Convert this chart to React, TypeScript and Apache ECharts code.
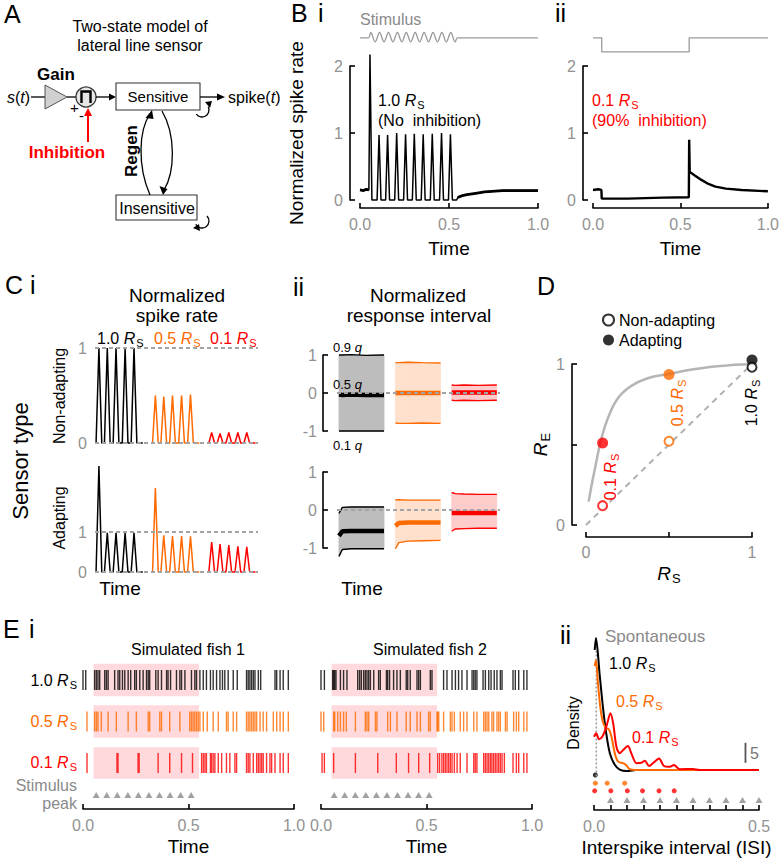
import React, { useEffect, useRef } from "react";
import * as echarts from "echarts";

const FONT = "'Liberation Sans', Arial, Helvetica, sans-serif";
const BLACK = "#000000";
const ORANGE = "#ff6a00";
const RED = "#ff0000";
const GREY_TXT = "#929292";
const GREY_LINE = "#a3a3a3";
const PINK = "#ffd9dc";
const TICK_FS = 16;

// ---------------- Panel B data ----------------
const b1SpikeTimes = [0.056, 0.107, 0.155, 0.206, 0.256, 0.305, 0.355, 0.406, 0.458, 0.508];
const b1SpikeRates = [2.17, 0.97, 0.97, 1.0, 0.98, 0.99, 0.98, 0.99, 1.0, 0.98];
const b1Before = [[0, 0.15], [0.02, 0.14], [0.035, 0.16], [0.05, 0.15]];
const b1After = [[0.543, 0.0], [0.55, 0.04], [0.57, 0.06], [0.6, 0.08], [0.65, 0.1], [0.7, 0.12], [0.8, 0.14], [0.9, 0.14], [1.0, 0.14]];
const b1Stimulus = [
  [0, 2.42], [0.047, 2.42], [0.06, 2.5], [0.085, 2.36], [0.11, 2.5], [0.135, 2.36], [0.16, 2.5], [0.185, 2.36],
  [0.21, 2.5], [0.235, 2.36], [0.26, 2.5], [0.285, 2.36], [0.31, 2.5], [0.335, 2.36], [0.36, 2.5], [0.385, 2.36],
  [0.41, 2.5], [0.435, 2.36], [0.46, 2.5], [0.485, 2.36], [0.51, 2.5], [0.535, 2.36], [0.548, 2.42], [1, 2.42],
];
const b2Trace = [
  [0, 0.15], [0.03, 0.16], [0.048, 0.15], [0.05, 0.02], [0.2, 0.02], [0.4, 0.035], [0.548, 0.04],
  [0.55, 0.9], [0.553, 0.42], [0.58, 0.37], [0.62, 0.3], [0.66, 0.24], [0.7, 0.2], [0.76, 0.17], [0.85, 0.15], [1.0, 0.13],
];
const b2Stimulus = [[0, 2.42], [0.05, 2.42], [0.05, 2.21], [0.55, 2.21], [0.55, 2.42], [1, 2.42]];

// ---------------- Panel C data ----------------
const cSpikeTimes = [0.022, 0.069, 0.118, 0.169, 0.219];
const cNonAdapt10 = [1, 1, 1, 1, 1];
const cNonAdapt05 = [0.5, 0.49, 0.5, 0.5, 0.51];
const cNonAdapt01 = [0.11, 0.1, 0.11, 0.11, 0.11];
const cAdapt10 = [2.65, 0.98, 0.98, 0.98, 0.98];
const cAdapt05 = [2.1, 0.92, 0.9, 0.9, 0.89];
const cAdapt01 = [0.75, 0.7, 0.67, 0.64, 0.63];

const riTimes = [0.011, 0.03, 0.08, 0.16, 0.264];
const riNonAdaptBlack = { q90: [1.0, 1.0, 1.01, 0.99, 1.0], q50: [-0.04, -0.05, -0.04, -0.05, -0.05], q10: [-1.0, -1.0, -1.0, -1.0, -1.0] };
const riNonAdaptOrange = { q90: [0.8, 0.8, 0.81, 0.8, 0.79], q50: [0, 0, 0, 0, 0], q10: [-0.79, -0.8, -0.8, -0.79, -0.8] };
const riNonAdaptRed = { q90: [0.21, 0.2, 0.21, 0.2, 0.21], q50: [0.01, 0.01, 0.01, 0.01, 0.01], q10: [-0.19, -0.2, -0.19, -0.2, -0.19] };
const riAdaptBlack = { q90: [-0.09, 0.07, 0.08, 0.08, 0.08], q50: [-0.68, -0.56, -0.55, -0.55, -0.55], q10: [-1.22, -1.04, -1.02, -1.02, -1.02] };
const riAdaptOrange = { q90: [0.27, 0.27, 0.26, 0.26, 0.26], q50: [-0.42, -0.34, -0.33, -0.33, -0.33], q10: [-1.02, -0.86, -0.82, -0.81, -0.8] };
const riAdaptRed = { q90: [0.46, 0.43, 0.42, 0.41, 0.41], q50: [-0.08, -0.08, -0.08, -0.08, -0.08], q10: [-0.56, -0.5, -0.49, -0.48, -0.48] };

// ---------------- Panel D data ----------------
const dCurveRs = [0.016, 0.036, 0.056, 0.086, 0.127, 0.187, 0.267, 0.367, 0.508, 0.649, 0.809, 1.0];
const dCurveRe = [0.145, 0.26, 0.36, 0.51, 0.65, 0.78, 0.86, 0.91, 0.94, 0.967, 0.988, 1.0];
const dRs = [0.1, 0.5, 1.0];
const dReNonAdapt = [0.12, 0.52, 0.98];
const dReAdapt = [0.51, 0.935, 1.025];

// ---------------- Panel E data ----------------
const fish1Rs10 = [0.0, 0.013, 0.055, 0.063, 0.071, 0.079, 0.103, 0.111, 0.119, 0.15, 0.166, 0.174, 0.187, 0.198, 0.214, 0.226, 0.245, 0.253, 0.269, 0.285, 0.301, 0.309, 0.316, 0.345, 0.356, 0.372, 0.396, 0.403, 0.415, 0.443, 0.459, 0.467, 0.483, 0.514, 0.53, 0.538, 0.554, 0.57, 0.585, 0.604, 0.617, 0.633, 0.649, 0.661, 0.672, 0.688, 0.712, 0.731, 0.775, 0.783, 0.791, 0.799, 0.807, 0.815, 0.831, 0.842, 0.91, 0.918, 0.934, 0.949, 0.973];
const fish1Rs05 = [0.019, 0.055, 0.063, 0.071, 0.087, 0.119, 0.158, 0.214, 0.253, 0.309, 0.316, 0.364, 0.372, 0.411, 0.459, 0.506, 0.514, 0.522, 0.53, 0.538, 0.546, 0.554, 0.57, 0.589, 0.617, 0.641, 0.68, 0.688, 0.712, 0.728, 0.775, 0.783, 0.791, 0.799, 0.807, 0.815, 0.823, 0.839, 0.854, 0.87, 0.902, 0.918, 0.934, 0.949, 0.973];
const fish1Rs01 = [0.019, 0.161, 0.166, 0.261, 0.266, 0.356, 0.411, 0.467, 0.519, 0.562, 0.57, 0.578, 0.585, 0.604, 0.609, 0.617, 0.625, 0.641, 0.657, 0.68, 0.696, 0.72, 0.728, 0.775, 0.783, 0.791, 0.807, 0.823, 0.831, 0.839, 0.847, 0.854, 0.87, 0.886, 0.894, 0.91, 0.934, 0.949, 0.973];
const fish2Rs10 = [0.0, 0.016, 0.055, 0.06, 0.065, 0.071, 0.092, 0.107, 0.123, 0.174, 0.183, 0.191, 0.202, 0.21, 0.218, 0.226, 0.234, 0.25, 0.273, 0.281, 0.31, 0.316, 0.325, 0.344, 0.36, 0.376, 0.404, 0.411, 0.423, 0.455, 0.463, 0.471, 0.518, 0.526, 0.581, 0.597, 0.621, 0.637, 0.652, 0.668, 0.692, 0.716, 0.724, 0.731, 0.739, 0.768, 0.779, 0.795, 0.806, 0.821, 0.834, 0.85, 0.858, 0.91, 0.921, 0.937, 0.961, 0.976];
const fish2Rs05 = [0.0, 0.013, 0.06, 0.065, 0.079, 0.092, 0.107, 0.12, 0.163, 0.21, 0.218, 0.226, 0.258, 0.265, 0.316, 0.329, 0.36, 0.404, 0.423, 0.455, 0.471, 0.51, 0.518, 0.55, 0.553, 0.558, 0.581, 0.613, 0.621, 0.632, 0.66, 0.676, 0.692, 0.724, 0.739, 0.771, 0.779, 0.787, 0.795, 0.81, 0.818, 0.834, 0.842, 0.85, 0.874, 0.882, 0.913, 0.926, 0.937, 0.961, 0.976];
const fish2Rs01 = [0.005, 0.016, 0.06, 0.163, 0.269, 0.357, 0.415, 0.463, 0.515, 0.553, 0.562, 0.573, 0.581, 0.589, 0.597, 0.605, 0.613, 0.621, 0.632, 0.645, 0.66, 0.692, 0.724, 0.731, 0.739, 0.771, 0.779, 0.787, 0.795, 0.803, 0.81, 0.818, 0.826, 0.834, 0.842, 0.85, 0.858, 0.869, 0.91, 0.926, 0.937, 0.961, 0.976];
const stimPeakTimes = [0.0625, 0.1125, 0.1625, 0.2125, 0.2625, 0.3125, 0.3625, 0.4125, 0.4625, 0.5125];

const isiBlack = [[0.002, 30], [0.006, 33], [0.017, 24], [0.027, 15.8], [0.037, 9.2], [0.048, 4.2], [0.063, 1.3], [0.078, 0.1], [0.1, -0.25], [0.125, 0]];
const isiOrange = [[0.002, 26], [0.006, 27.5], [0.012, 21.7], [0.019, 15.8], [0.027, 12], [0.037, 10.4], [0.045, 10.2], [0.053, 8.3], [0.063, 4.2], [0.073, 2.1], [0.088, 1.7], [0.098, 1.2], [0.108, 0.2], [0.13, 0], [0.5, 0]];
const isiRed = [[0.0, 8.3], [0.007, 9.2], [0.015, 7.7], [0.025, 8.3], [0.037, 10.7], [0.05, 14.2], [0.058, 11.7], [0.068, 5.8], [0.078, 4.2], [0.093, 5.4], [0.103, 6], [0.113, 4.2], [0.129, 1.7], [0.144, 1.8], [0.154, 2.3], [0.167, 1], [0.184, 2.1], [0.197, 2.9], [0.212, 1], [0.23, 0.8], [0.242, 1.25], [0.26, 0.2], [0.3, 0.25], [0.32, 0], [0.5, 0]];
const isiDotsBlack = [0.004];
const isiDotsOrange = [0.004, 0.04, 0.093];
const isiDotsRed = [0.002, 0.051, 0.101, 0.147, 0.197, 0.243];
const isiStimPeaks = [0.05, 0.1, 0.15, 0.2, 0.25, 0.3, 0.35, 0.4, 0.45, 0.5];
const isiSpontaneous = 0.007;
const isiScaleBar = 5;

// ---------------- helpers ----------------
const GROUP_OFF = [0, 0.317, 0.633];

function rich(size: number, color: string) {
  const base = { fontSize: size, fontFamily: FONT, color, fill: color };
  return {
    n: { ...base },
    i: { ...base, fontStyle: "italic" },
    s: { ...base, fontSize: Math.round(size * 0.7), verticalAlign: "bottom", padding: [2, 0, -2, 1] },
    b: { ...base, fontWeight: "bold" },
  };
}
const rsText = (prefix: string) => `{n|${prefix}}{i|R}{s|S}`;

function txt(text: string, x: number, y: number, o: any = {}) {
  const color = o.color || BLACK;
  const size = o.size || 16;
  return {
    type: "text",
    x,
    y,
    rotation: o.rot || 0,
    silent: true,
    z: 100,
    style: {
      text,
      fill: color,
      fontSize: size,
      fontFamily: FONT,
      fontWeight: o.bold ? "bold" : "normal",
      fontStyle: o.italic ? "italic" : "normal",
      align: o.align || "left",
      verticalAlign: "middle",
      textAlign: o.align || "left",
      textVerticalAlign: "middle",
      rich: rich(size, color),
    },
  };
}

function ln(idx: number, data: any[], color: string, width: number, extra: any = {}) {
  return {
    type: "line",
    xAxisIndex: idx,
    yAxisIndex: idx,
    data,
    symbol: "none",
    silent: true,
    clip: false,
    lineStyle: { color, width },
    itemStyle: { color },
    ...extra,
  };
}

function spikeTrace(times: number[], heights: number[], off: number, halfW: number, start: number, end: number) {
  const pts: number[][] = [[off + start, 0]];
  times.forEach((t, k) => {
    pts.push([off + t - halfW, 0], [off + t, heights[k]], [off + t + halfW, 0]);
  });
  pts.push([off + end, 0]);
  return pts;
}

function bandSeries(idx: number, off: number, box: any, fill: string) {
  const data = riTimes.slice(0, -1).map((t, k) => [off + t, off + riTimes[k + 1], box.q10[k], box.q90[k], box.q10[k + 1], box.q90[k + 1]]);
  return {
    type: "custom",
    xAxisIndex: idx,
    yAxisIndex: idx,
    silent: true,
    clip: false,
    z: 1,
    data,
    encode: { x: [0, 1], y: [2, 3, 4, 5] },
    renderItem: (_p: any, api: any) => {
      const a = api.coord([api.value(0), api.value(2)]);
      const b = api.coord([api.value(0), api.value(3)]);
      const c = api.coord([api.value(1), api.value(5)]);
      const d = api.coord([api.value(1), api.value(4)]);
      return { type: "polygon", shape: { points: [a, b, c, d] }, style: { fill, stroke: fill, lineWidth: 0.8 } };
    },
  };
}

function boxSeries(idx: number, off: number, box: any, color: string, fill: string) {
  return [
    bandSeries(idx, off, box, fill),
    ln(idx, riTimes.map((t, k) => [off + t, box.q90[k]]), color, 1.4, { z: 3 }),
    ln(idx, riTimes.map((t, k) => [off + t, box.q10[k]]), color, 1.4, { z: 3 }),
    ln(idx, riTimes.map((t, k) => [off + t, box.q50[k]]), color, 4.5, { z: 3 }),
  ];
}

function raster(idx: number, times: number[], row: number, color: string) {
  return {
    type: "scatter",
    xAxisIndex: idx,
    yAxisIndex: idx,
    silent: true,
    z: 4,
    symbol: "rect",
    symbolSize: [1.4, 20],
    itemStyle: { color },
    data: times.map((t) => [t, row]),
  };
}

function axisStyle(extra: any) {
  return {
    type: "value",
    axisLine: { show: true, onZero: false, lineStyle: { color: BLACK, width: 1.6 } },
    axisTick: { show: true, inside: true, length: 5, lineStyle: { color: BLACK, width: 1.6 } },
    axisLabel: { color: GREY_TXT, fontSize: TICK_FS, fontFamily: FONT, margin: 8 },
    splitLine: { show: false },
    nameLocation: "middle",
    nameTextStyle: { fontSize: 19, fontFamily: FONT, color: BLACK },
    ...extra,
  };
}
const hidden = (idx: number, min: number, max: number) => ({ type: "value", gridIndex: idx, min, max, show: false });

function buildOption() {
  const grid = [
    { left: 360, top: 66, width: 178, height: 134 },
    { left: 593, top: 66, width: 178, height: 134 },
    { left: 95, top: 348, width: 163, height: 95 },
    { left: 95, top: 532, width: 163, height: 40 },
    { left: 337, top: 355, width: 163, height: 76 },
    { left: 337, top: 472, width: 163, height: 76 },
    { left: 586, top: 364, width: 166, height: 161 },
    { left: 83, top: 660, width: 211, height: 149 },
    { left: 321, top: 660, width: 211, height: 149 },
    { left: 594, top: 640, width: 165, height: 170 },
  ];
  const fmt1 = (v: number) => v.toFixed(1);
  const xLab = (formatter: any, margin = 8) => ({ color: GREY_TXT, fontSize: TICK_FS, fontFamily: FONT, margin, formatter });
  const xAxis = [
    axisStyle({ gridIndex: 0, min: 0, max: 1, interval: 0.5, offset: 8, name: "Time", nameGap: 31, axisLabel: xLab(fmt1) }),
    axisStyle({ gridIndex: 1, min: 0, max: 1, interval: 0.5, offset: 8, name: "Time", nameGap: 31, axisLabel: xLab(fmt1) }),
    hidden(2, 0, 0.915),
    hidden(3, 0, 0.915),
    hidden(4, 0, 0.915),
    hidden(5, 0, 0.915),
    axisStyle({
      gridIndex: 6, min: 0, max: 1, interval: 0.5, offset: 12, name: "{i|R}{s|S}", nameGap: 27,
      nameTextStyle: { fontSize: 19, fontFamily: FONT, color: BLACK, rich: rich(19, BLACK) },
      axisLabel: xLab((v: number) => (Math.abs(v - 0.5) < 1e-6 ? "" : String(v)), 7),
    }),
    axisStyle({ gridIndex: 7, min: 0, max: 1, interval: 0.5, name: "Time", nameGap: 28, axisLabel: xLab(fmt1) }),
    axisStyle({ gridIndex: 8, min: 0, max: 1, interval: 0.5, name: "Time", nameGap: 28, axisLabel: xLab(fmt1) }),
    axisStyle({
      gridIndex: 9, min: 0, max: 0.5, interval: 0.05, name: "Interspike interval (ISI)", nameGap: 28,
      axisLabel: xLab((v: number) => (v < 1e-6 || Math.abs(v - 0.5) < 1e-6 ? v.toFixed(1) : "")),
    }),
  ];
  const yLab = (margin: number) => ({ color: GREY_TXT, fontSize: TICK_FS, fontFamily: FONT, margin });
  const yAxis = [
    axisStyle({ gridIndex: 0, min: 0, max: 2, interval: 1, offset: 10, name: "Normalized spike rate", nameGap: 44, axisLabel: yLab(7) }),
    axisStyle({ gridIndex: 1, min: 0, max: 2, interval: 1, offset: 10, axisLabel: yLab(7) }),
    axisStyle({ gridIndex: 2, min: 0, max: 1, interval: 1, axisLine: { show: false }, axisTick: { show: false }, axisLabel: yLab(8) }),
    axisStyle({ gridIndex: 3, min: 0, max: 1, interval: 1, axisLine: { show: false }, axisTick: { show: false }, axisLabel: yLab(8) }),
    axisStyle({ gridIndex: 4, min: -1, max: 1, interval: 1, offset: 14, axisLabel: yLab(6) }),
    axisStyle({ gridIndex: 5, min: -1, max: 1, interval: 1, offset: 14, axisLabel: yLab(6) }),
    axisStyle({
      gridIndex: 6, min: 0, max: 1, interval: 0.5, offset: 14, name: "{i|R}{s|E}", nameGap: 16,
      nameTextStyle: { fontSize: 19, fontFamily: FONT, color: BLACK, rich: rich(19, BLACK) },
      axisLabel: { ...yLab(7), formatter: (v: number) => (Math.abs(v - 0.5) < 1e-6 ? "" : String(v)) },
    }),
    hidden(7, -0.108, 3.482),
    hidden(8, -0.108, 3.482),
    hidden(9, -10, 32.5),
  ];

  const series: any[] = [];

  // ---- B i ----
  const b1Trace: number[][] = [...b1Before];
  b1SpikeTimes.forEach((t, k) => {
    if (k > 0) b1Trace.push([t - 0.011, 0]);
    b1Trace.push([t, b1SpikeRates[k]], [t + 0.011, 0]);
  });
  b1Trace.push(...b1After);
  series.push(ln(0, b1Trace, BLACK, 1.5));
  series.push(ln(0, b1Before, BLACK, 2.8));
  series.push(ln(0, b1After.slice(1), BLACK, 2.8));
  series.push(ln(0, b1Stimulus, "#9a9a9a", 1.3, { smooth: 0.35 }));
  // ---- B ii ----
  series.push(ln(1, b2Trace, BLACK, 2.4));
  series.push(ln(1, b2Stimulus, "#9a9a9a", 1.3));

  // ---- C i ----
  const colors = [BLACK, ORANGE, RED];
  [cNonAdapt10, cNonAdapt05, cNonAdapt01].forEach((h, g) => series.push(ln(2, spikeTrace(cSpikeTimes, h, GROUP_OFF[g], 0.016, 0, 0.268), colors[g], 1.5)));
  [cAdapt10, cAdapt05, cAdapt01].forEach((h, g) => series.push(ln(3, spikeTrace(cSpikeTimes, h, GROUP_OFF[g], 0.016, 0, 0.268), colors[g], 1.5)));
  const dash = { color: GREY_LINE, width: 2, type: [4, 3] };
  [2, 3].forEach((i) => {
    series.push(ln(i, [[0, 1], [0.915, 1]], GREY_LINE, 2, { lineStyle: dash, z: 5 }));
    series.push(ln(i, [[0, 0], [0.915, 0]], GREY_LINE, 2, { lineStyle: dash, z: 5 }));
  });

  // ---- C ii ----
  const fills = ["#bdbdbd", "#ffe0cc", "#ffcccc"];
  [riNonAdaptBlack, riNonAdaptOrange, riNonAdaptRed].forEach((b, g) => series.push(...boxSeries(4, GROUP_OFF[g], b, colors[g], fills[g])));
  [riAdaptBlack, riAdaptOrange, riAdaptRed].forEach((b, g) => series.push(...boxSeries(5, GROUP_OFF[g], b, colors[g], fills[g])));
  [4, 5].forEach((i) => series.push(ln(i, [[0, 0], [0.915, 0]], GREY_LINE, 2, { lineStyle: dash, z: 5 })));

  // ---- D ----
  series.push(ln(6, [[0, 0], [1, 1]], "#b0b0b0", 2, { lineStyle: { color: "#b0b0b0", width: 2, type: [6, 5] } }));
  series.push(ln(6, dCurveRs.map((x, k) => [x, dCurveRe[k]]), "#b5b5b5", 2.5, { smooth: 0.4 }));
  series.push({
    type: "scatter", name: "Adapting", xAxisIndex: 6, yAxisIndex: 6, silent: true, clip: false, z: 4,
    symbol: "circle", symbolSize: 11, itemStyle: { color: BLACK },
    data: dRs.map((x, k) => ({ value: [x, dReAdapt[k]], itemStyle: { color: [RED, ORANGE, BLACK][k] } })),
  });
  series.push({
    type: "scatter", name: "Non-adapting", xAxisIndex: 6, yAxisIndex: 6, silent: true, clip: false, z: 5,
    symbol: "circle", symbolSize: 9, itemStyle: { color: "#ffffff", borderColor: BLACK, borderWidth: 2 },
    data: dRs.map((x, k) => ({ value: [x, dReNonAdapt[k]], itemStyle: { color: "#ffffff", borderColor: [RED, ORANGE, BLACK][k], borderWidth: 2 } })),
  });

  // ---- E i ----
  const pinkArea = {
    silent: true,
    itemStyle: { color: PINK },
    data: [
      [{ xAxis: 0.05, yAxis: 2.61 }, { xAxis: 0.55, yAxis: 3.39 }],
      [{ xAxis: 0.05, yAxis: 1.61 }, { xAxis: 0.55, yAxis: 2.39 }],
      [{ xAxis: 0.05, yAxis: 0.62 }, { xAxis: 0.55, yAxis: 1.38 }],
    ],
  };
  [[fish1Rs10, fish1Rs05, fish1Rs01], [fish2Rs10, fish2Rs05, fish2Rs01]].forEach((rows, f) => {
    const idx = 7 + f;
    series.push({
      type: "scatter", xAxisIndex: idx, yAxisIndex: idx, silent: true, z: 3,
      symbol: "triangle", symbolSize: [7, 6], itemStyle: { color: "#8a8a8a" },
      data: stimPeakTimes.map((t) => [t, 0.229]),
      markArea: pinkArea,
    });
    rows.forEach((r, k) => series.push(raster(idx, r, 3 - k, colors[k])));
  });

  // ---- E ii ----
  series.push(ln(9, [[isiSpontaneous, -1.6], [isiSpontaneous, 31.5]], "#9a9a9a", 1.5, { lineStyle: { color: "#9a9a9a", width: 1.5, type: [2, 2] } }));
  series.push(ln(9, isiBlack, BLACK, 2, { smooth: 0.3 }));
  series.push(ln(9, isiOrange, ORANGE, 2, { smooth: 0.3 }));
  series.push(ln(9, isiRed, RED, 2, { smooth: 0.3 }));
  const dots = (xs: number[], y: number, color: string) => ({
    type: "scatter", xAxisIndex: 9, yAxisIndex: 9, silent: true, clip: false,
    symbol: "circle", symbolSize: 5, itemStyle: { color }, data: xs.map((x) => [x, y]),
  });
  series.push(dots(isiDotsBlack, -1.25, BLACK));
  series.push(dots(isiDotsOrange, -3.3, ORANGE));
  series.push(dots(isiDotsRed, -5.2, RED));
  series.push({
    type: "scatter", xAxisIndex: 9, yAxisIndex: 9, silent: true, clip: false,
    symbol: "triangle", symbolSize: [7, 6], itemStyle: { color: "#8a8a8a" },
    data: isiStimPeaks.map((x) => [x, -7.5]),
  });
  series.push(ln(9, [[0.459, 1.8], [0.459, 1.8 + isiScaleBar]], "#555555", 1.8));

  // ---- graphic: diagram + labels ----
  const S = { stroke: BLACK, lineWidth: 1.3, fill: null };
  const g: any[] = [
    // Panel A diagram
    { type: "line", shape: { x1: 31, y1: 97, x2: 45, y2: 97 }, style: S },
    { type: "polygon", shape: { points: [[45, 85], [45, 109], [67, 97]] }, style: { fill: "#d0d0d0", stroke: "#555", lineWidth: 1 } },
    { type: "line", shape: { x1: 67, y1: 97, x2: 76, y2: 97 }, style: S },
    { type: "circle", shape: { cx: 86, cy: 97, r: 10 }, style: { fill: "#e6e6e6", stroke: "#333", lineWidth: 1.3 } },
    { type: "polyline", shape: { points: [[81.5, 103], [81.5, 91.5], [90.5, 91.5], [90.5, 103]] }, style: { stroke: BLACK, lineWidth: 2.4, fill: null } },
    { type: "line", shape: { x1: 96, y1: 97, x2: 110, y2: 97 }, style: S },
    { type: "polygon", shape: { points: [[109, 93.5], [116, 97], [109, 100.5]] }, style: { fill: BLACK } },
    { type: "rect", shape: { x: 116, y: 83, width: 84, height: 27 }, style: { fill: "#fff", stroke: "#333", lineWidth: 1.1 } },
    { type: "line", shape: { x1: 200, y1: 97, x2: 218, y2: 97 }, style: S },
    { type: "polygon", shape: { points: [[217, 93.5], [225, 97], [217, 100.5]] }, style: { fill: BLACK } },
    { type: "arc", shape: { cx: 202, cy: 110, r: 7, startAngle: Math.PI * 0.8, endAngle: -Math.PI * 0.15, clockwise: false }, style: S },
    { type: "polygon", shape: { points: [[205, 102], [212, 101], [210, 108]] }, style: { fill: BLACK } },
    { type: "rect", shape: { x: 116, y: 195, width: 81, height: 25 }, style: { fill: "#fff", stroke: "#333", lineWidth: 1.1 } },
    { type: "arc", shape: { cx: 202, cy: 221, r: 7, startAngle: -Math.PI * 0.25, endAngle: Math.PI * 0.85, clockwise: true }, style: S },
    { type: "polygon", shape: { points: [[199, 224], [193, 228], [200, 231]] }, style: { fill: BLACK } },
    { type: "bezierCurve", shape: { x1: 150, y1: 195, cpx1: 137, cpy1: 165, cpx2: 139, cpy2: 130, x2: 150, y2: 114 }, style: S },
    { type: "polygon", shape: { points: [[145.5, 118], [152, 110], [153.5, 119]] }, style: { fill: BLACK } },
    { type: "bezierCurve", shape: { x1: 162, y1: 111, cpx1: 176, cpy1: 135, cpx2: 175, cpy2: 172, x2: 164, y2: 190 }, style: S },
    { type: "polygon", shape: { points: [[159.5, 186], [163, 195], [167.5, 189]] }, style: { fill: BLACK } },
    { type: "line", shape: { x1: 88, y1: 142, x2: 88, y2: 114 }, style: { stroke: RED, lineWidth: 2 } },
    { type: "polygon", shape: { points: [[84, 116], [88, 108], [92, 116]] }, style: { fill: RED } },
    txt("A", 4, 14, { size: 25 }),
    txt("Two-state model of", 140, 26, { size: 16, align: "center" }),
    txt("lateral line sensor", 140, 45, { size: 16, align: "center" }),
    txt("Gain", 37, 74, { size: 17, bold: true }),
    txt("{i|s}{n|(}{i|t}{n|)}", 7, 97, { size: 16 }),
    txt("+", 70, 107, { size: 15 }),
    txt("-", 79, 115, { size: 15 }),
    txt("Sensitive", 158, 96, { size: 15, align: "center" }),
    txt("{n|spike(}{i|t}{n|)}", 228, 97, { size: 16 }),
    txt("Inhibition", 67, 152, { size: 17, bold: true, color: RED, align: "center" }),
    txt("Regen", 131, 151, { size: 17, bold: true, align: "center", rot: Math.PI / 2 }),
    txt("Insensitive", 157, 208, { size: 16, align: "center" }),
    // Panel B
    txt("B", 291, 13, { size: 25 }),
    txt("i", 318, 13, { size: 25 }),
    txt("ii", 555, 13, { size: 25 }),
    txt("Stimulus", 360, 19, { size: 16, color: "#8a8a8a" }),
    txt(rsText("1.0 "), 378, 100, { size: 16 }),
    txt("(No  inhibition)", 378, 120, { size: 16 }),
    txt(rsText("0.1 "), 592, 100, { size: 16, color: RED }),
    txt("(90%  inhibition)", 592, 120, { size: 16, color: RED }),
    // Panel C
    txt("C", 5, 285, { size: 25 }),
    txt("i", 30, 285, { size: 25 }),
    txt("Normalized", 177, 295, { size: 19, align: "center" }),
    txt("spike rate", 177, 315, { size: 19, align: "center" }),
    txt(rsText("1.0 "), 97, 338, { size: 16 }),
    txt(rsText("0.5 "), 154, 338, { size: 16, color: ORANGE }),
    txt(rsText("0.1 "), 210, 338, { size: 16, color: RED }),
    txt("Sensor type", 20, 461, { size: 22, align: "center", rot: Math.PI / 2 }),
    txt("Non-adapting", 59, 396, { size: 16, align: "center", rot: Math.PI / 2 }),
    txt("Adapting", 59, 518, { size: 16, align: "center", rot: Math.PI / 2 }),
    txt("Time", 120, 588, { size: 19, align: "center" }),
    txt("ii", 293, 287, { size: 25 }),
    txt("Normalized", 418, 295, { size: 19, align: "center" }),
    txt("response interval", 419, 315, { size: 19, align: "center" }),
    txt("{n|0.9 }{i|q}", 333, 347, { size: 13 }),
    txt("{n|0.5 }{i|q}", 333, 384, { size: 13 }),
    txt("{n|0.1 }{i|q}", 333, 445, { size: 13 }),
    txt("Time", 362, 588, { size: 19, align: "center" }),
    // Panel D
    txt("D", 537, 286, { size: 25 }),
    txt(rsText("0.1 "), 610, 477, { size: 16, color: RED, align: "center", rot: Math.PI / 2 }),
    txt(rsText("0.5 "), 677, 403, { size: 16, color: ORANGE, align: "center", rot: Math.PI / 2 }),
    txt(rsText("1.0 "), 751, 403, { size: 16, align: "center", rot: Math.PI / 2 }),
    // Panel E
    txt("E", 3, 629, { size: 25 }),
    txt("i", 29, 629, { size: 25 }),
    txt("Simulated fish 1", 188, 649, { size: 16, align: "center" }),
    txt("Simulated fish 2", 430, 649, { size: 16, align: "center" }),
    txt(rsText("1.0 "), 77, 680, { size: 16, align: "right" }),
    txt(rsText("0.5 "), 77, 721, { size: 16, align: "right", color: ORANGE }),
    txt(rsText("0.1 "), 77, 762, { size: 16, align: "right", color: RED }),
    txt("Stimulus", 77, 785, { size: 16, align: "right", color: "#8a8a8a" }),
    txt("peak", 77, 803, { size: 16, align: "right", color: "#8a8a8a" }),
    txt("ii", 560, 635, { size: 25 }),
    txt("Spontaneous", 605, 636, { size: 17, color: "#8a8a8a" }),
    txt(rsText("1.0 "), 609, 663, { size: 16 }),
    txt(rsText("0.5 "), 616, 701, { size: 16, color: ORANGE }),
    txt(rsText("0.1 "), 632, 737, { size: 16, color: RED }),
    txt("Density", 573, 723, { size: 16, align: "center", rot: Math.PI / 2 }),
    txt("5", 750, 753, { size: 16, color: "#777777" }),
  ];

  return {
    animation: false,
    backgroundColor: "#ffffff",
    textStyle: { fontFamily: FONT },
    grid,
    xAxis,
    yAxis,
    legend: {
      data: ["Non-adapting", "Adapting"],
      left: 597,
      top: 307,
      orient: "vertical",
      icon: "circle",
      itemWidth: 11,
      itemHeight: 11,
      itemGap: 4,
      selectedMode: false,
      textStyle: { fontSize: 16, fontFamily: FONT, color: BLACK },
    },
    series,
    graphic: { elements: g },
  };
}

export default function App() {
  const ref = useRef<HTMLDivElement>(null);
  useEffect(() => {
    if (!ref.current) return;
    const chart = echarts.init(ref.current, undefined, { renderer: "svg" });
    chart.setOption(buildOption() as any);
    return () => chart.dispose();
  }, []);
  return <div ref={ref} style={{ position: "fixed", left: 0, top: 0, width: 782, height: 858, background: "#fff" }} />;
}
